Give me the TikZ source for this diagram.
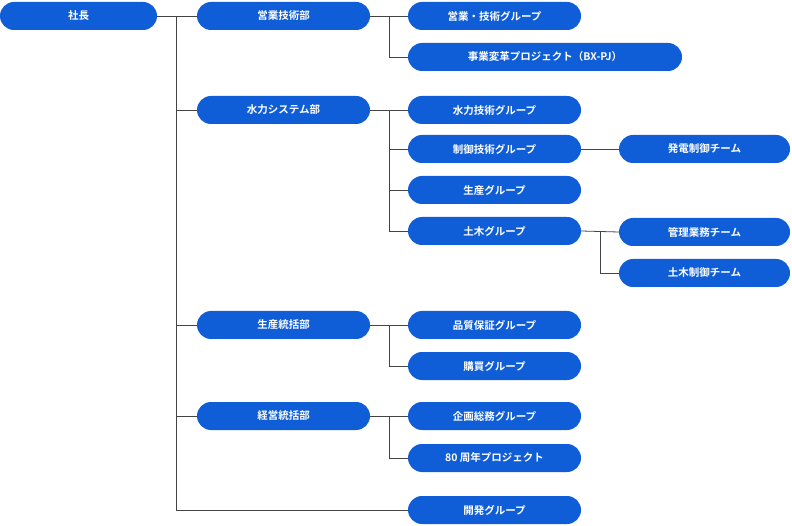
\documentclass[tikz,border=0pt]{standalone}
\usepackage{fontspec}
\setmainfont{Noto Sans CJK JP}[BoldFont={Noto Sans CJK JP Bold}]
\definecolor{nb}{HTML}{0F5ED8}
\definecolor{ln}{HTML}{444444}
\begin{document}
\begin{tikzpicture}[x=1pt,y=-1pt,
 box/.style={fill=nb,rounded corners=14pt,minimum height=28pt,inner sep=0pt,text=white,font=\bfseries\fontsize{10.5}{12}\selectfont},
 w157/.style={box,minimum width=157pt},
 w173/.style={box,minimum width=173pt},
 w171/.style={box,minimum width=171pt},
 w274/.style={box,minimum width=274pt},
 con/.style={draw=ln,line width=0.8pt}]
\useasboundingbox (0,0) rectangle (792,526);
\node[w157] (ceo) at (78.5,16) {社長};
\node[w173] (d1) at (283.5,16) {営業技術部};
\node[w173] (d2) at (283.5,110) {水力システム部};
\node[w173] (d3) at (283.5,325) {生産統括部};
\node[w173] (d4) at (283.5,416) {経営統括部};
\node[w173] (g1) at (494.5,16) {営業・技術グループ};
\node[w274] (g2) at (545,57) {事業変革プロジェクト（BX-PJ）};
\node[w173] (g3) at (494.5,110) {水力技術グループ};
\node[w173] (g4) at (494.5,149) {制御技術グループ};
\node[w173] (g5) at (494.5,190) {生産グループ};
\node[w173] (g6) at (494.5,231) {土木グループ};
\node[w173] (g7) at (494.5,325) {品質保証グループ};
\node[w173] (g8) at (494.5,366) {購買グループ};
\node[w173] (g9) at (494.5,416) {企画総務グループ};
\node[w173] (g10) at (494.5,458) {80 周年プロジェクト};
\node[w173] (g11) at (494.5,510) {開発グループ};
\node[w171] (t1) at (704.5,149) {発電制御チーム};
\node[w171] (t2) at (704.5,232) {管理業務チーム};
\node[w171] (t3) at (704.5,273) {土木制御チーム};
\coordinate (tr) at (176,16);
\path[con] (ceo.east) -- (d1.west);
\path[con] (tr) |- (g11.west);
\foreach \d in {d2,d3,d4} \path[con] (tr |- \d.west) -- (\d.west);
\foreach \d/\a/\b in {d1/g1/g2,d2/g3/g6,d3/g7/g8,d4/g9/g10}{
 \path[con] (\d.east) -- (\a.west);
 \path[con] (389,0 |- \a.west) |- (\b.west);}
\path[con] (389,0 |- g4.west) -- (g4.west);
\path[con] (389,0 |- g5.west) -- (g5.west);
\path[con] (g4.east) -- (t1.west);
\path[con] (g6.east) -- (t2.west);
\path[con] (600,0 |- g6.east) |- (t3.west);
\end{tikzpicture}
\end{document}
